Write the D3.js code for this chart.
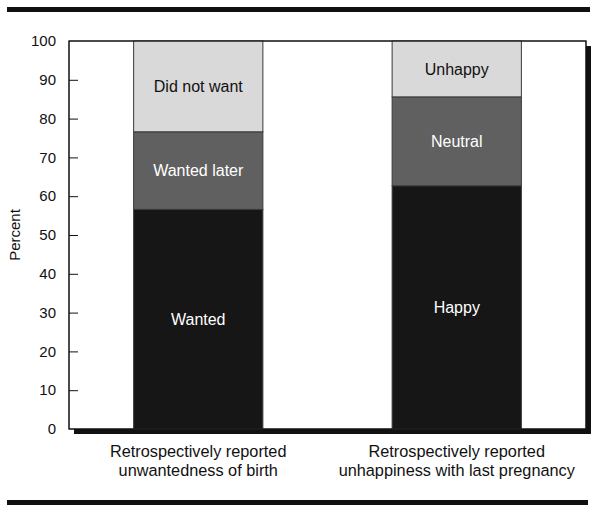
<!DOCTYPE html>
<html>
<head>
<meta charset="utf-8">
<script src="https://cdn.jsdelivr.net/npm/d3@7"></script>
<style>
  html, body { margin: 0; padding: 0; background: #fff; }
  svg { display: block; font-family: "Liberation Sans", Arial, Helvetica, sans-serif; }
</style>
</head>
<body>
<svg id="chart" width="600" height="514"></svg>
<script>
// ---- data ----
const categories = [
  ["Retrospectively reported", "unwantedness of birth"],
  ["Retrospectively reported", "unhappiness with last pregnancy"]
];
const segmentLabels = [
  ["Wanted", "Wanted later", "Did not want"],
  ["Happy", "Neutral", "Unhappy"]
];
const segmentValues = [
  [56.6, 20.0, 23.4],
  [62.7, 22.9, 14.4]
];
const yTicks = [0, 10, 20, 30, 40, 50, 60, 70, 80, 90, 100];
const yLabel = "Percent";

// ---- styles ----
const fills = ["#161616", "#606060", "#d9d9d9"];
const textFills = ["#ffffff", "#ffffff", "#111111"];

const svg = d3.select("#chart");
const pL = 69, pR = 586, pT = 41, pB = 429;

const x = d3.scaleBand().domain(d3.range(categories.length))
  .range([pL, pR]).paddingInner(0.5).paddingOuter(0.25);
const y = d3.scaleLinear().domain([0, 100]).range([pB, pT]);

// rules
svg.append("rect").attr("x", 7).attr("y", 7).attr("width", 583).attr("height", 5).attr("fill", "#111");
svg.append("rect").attr("x", 7).attr("y", 500).attr("width", 581).attr("height", 5).attr("fill", "#111");

// frame with shadow
svg.append("rect").attr("x", pL + 5).attr("y", pT + 5)
  .attr("width", pR - pL).attr("height", pB - pT).attr("fill", "#111");
svg.append("rect").attr("x", pL).attr("y", pT)
  .attr("width", pR - pL).attr("height", pB - pT)
  .attr("fill", "#fff").attr("stroke", "#111").attr("stroke-width", 1);

// bars
categories.forEach((cat, i) => {
  let cum = 0;
  const g = svg.append("g");
  segmentValues[i].forEach((v, j) => {
    const y0 = cum, y1 = cum + v;
    cum = y1;
    g.append("rect")
      .attr("x", x(i)).attr("width", x.bandwidth())
      .attr("y", y(y1)).attr("height", y(y0) - y(y1))
      .attr("fill", fills[j]).attr("stroke", "#3a3a3a").attr("stroke-width", 1);
    g.append("text")
      .attr("x", x(i) + x.bandwidth() / 2)
      .attr("y", y((y0 + y1) / 2))
      .attr("dy", "0.35em")
      .attr("text-anchor", "middle")
      .attr("font-size", 16)
      .attr("fill", textFills[j])
      .text(segmentLabels[i][j]);
  });
});

// redraw frame border on top
svg.append("rect").attr("x", pL).attr("y", pT)
  .attr("width", pR - pL).attr("height", pB - pT)
  .attr("fill", "none").attr("stroke", "#111").attr("stroke-width", 1);

// y axis (ticks inward)
const yAxis = d3.axisRight(y).tickValues(yTicks).tickSize(9).tickFormat("");
const ag = svg.append("g").attr("transform", `translate(${pL},0)`).call(yAxis);
ag.select(".domain").remove();
ag.selectAll(".tick line").attr("stroke", "#111");
ag.selectAll(".tick").filter(d => d === 0 || d === 100).select("line").remove();

svg.append("g").selectAll("text").data(yTicks).join("text")
  .attr("x", 56).attr("y", d => y(d)).attr("dy", "0.35em")
  .attr("text-anchor", "end").attr("font-size", 15).attr("fill", "#111")
  .text(d => d);

svg.append("text")
  .attr("transform", `translate(20,${(pT + pB) / 2}) rotate(-90)`)
  .attr("text-anchor", "middle").attr("font-size", 15).attr("fill", "#111")
  .text(yLabel);

// category labels
categories.forEach((lines, i) => {
  const t = svg.append("text")
    .attr("x", x(i) + x.bandwidth() / 2)
    .attr("y", 457)
    .attr("text-anchor", "middle").attr("font-size", 16.3).attr("fill", "#111");
  lines.forEach((ln, k) => {
    t.append("tspan").attr("x", x(i) + x.bandwidth() / 2).attr("dy", k === 0 ? 0 : 18.5).text(ln);
  });
});
</script>
</body>
</html>
